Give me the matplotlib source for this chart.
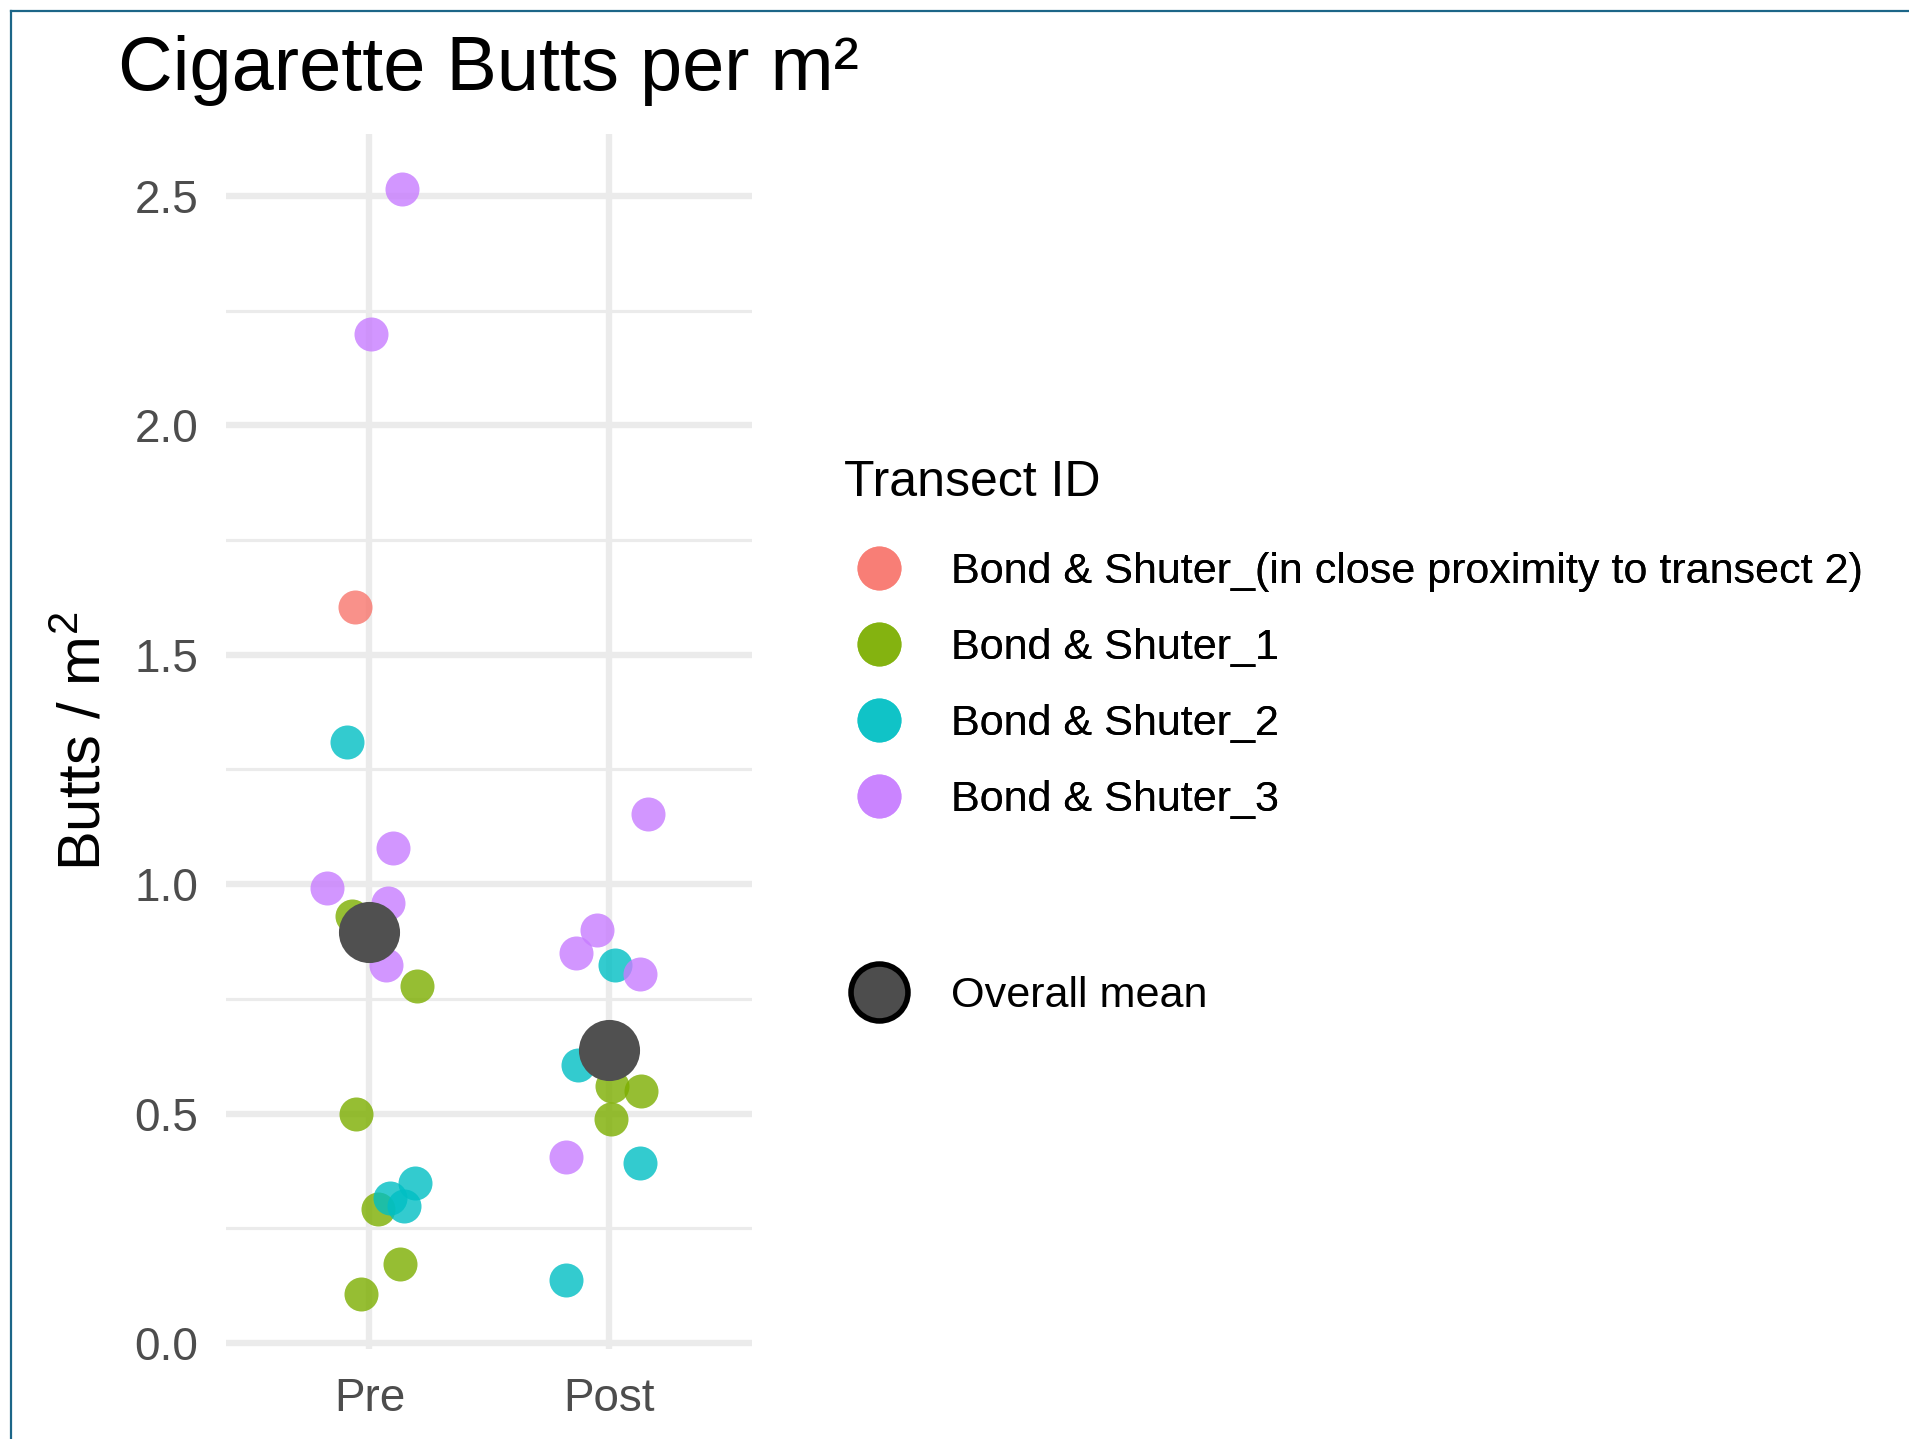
import matplotlib
matplotlib.use('Agg')
import matplotlib.pyplot as plt
import numpy as np
from matplotlib.lines import Line2D
from matplotlib.ticker import MultipleLocator, FormatStrFormatter

plt.rcParams['font.family'] = ['Liberation Sans', 'DejaVu Sans']
plt.rcParams['mathtext.fontset'] = 'custom'
plt.rcParams['mathtext.rm'] = 'Liberation Sans'
plt.rcParams['mathtext.default'] = 'regular'

# ---------------- data ----------------
periods = ['Pre', 'Post']
transect_ids = ['Bond & Shuter_(in close proximity to transect 2)',
                'Bond & Shuter_1', 'Bond & Shuter_2', 'Bond & Shuter_3']
transect_colors = ['#F8766D', '#7CAE00', '#00BFC4', '#C77CFF']

pre_transect = [0, 2, 3, 3, 3, 3, 1, 3, 3, 1, 1, 2, 2, 2, 1, 1, 1]
pre_value = [1.604, 1.309, 2.515, 2.199, 1.078, 0.992, 0.931, 0.959, 0.823,
             0.779, 0.498, 0.349, 0.316, 0.298, 0.292, 0.171, 0.107]
pre_jitter = [-0.061, -0.096, 0.138, 0.005, 0.099, -0.176, -0.073, 0.076, 0.069,
              0.199, -0.057, 0.190, 0.085, 0.143, 0.036, 0.128, -0.036]

post_transect = [3, 3, 3, 2, 3, 2, 1, 1, 1, 3, 2, 2]
post_value = [1.152, 0.899, 0.851, 0.824, 0.804, 0.606, 0.560, 0.549, 0.489,
              0.406, 0.392, 0.136]
post_jitter = [0.167, -0.047, -0.136, 0.025, 0.130, -0.126, 0.015, 0.136, 0.012,
               -0.177, 0.130, -0.179]

period_transect = [pre_transect, post_transect]
period_value = [pre_value, post_value]
period_jitter = [pre_jitter, post_jitter]

# ---------------- figure ----------------
W, H = 1909, 1439
fig = plt.figure(figsize=(W / 100, H / 100), dpi=100)
fig.patch.set_facecolor('white')

ax = fig.add_axes([226 / W, 1 - 1349 / H, (752 - 226) / W, (1349 - 134) / H])
ax.set_facecolor('white')
for s in ax.spines.values():
    s.set_visible(False)

grid_col = '#EBEBEB'
ax.set_axisbelow(True)

# points, by transect group
for t, col in enumerate(transect_colors):
    xs, ys = [], []
    for p in range(len(periods)):
        for tr, v, j in zip(period_transect[p], period_value[p], period_jitter[p]):
            if tr == t:
                xs.append(p + j)
                ys.append(v)
    ax.scatter(xs, ys, s=600, color=col, alpha=0.8, linewidths=0, zorder=3)

# overall means
means = [np.mean(v) for v in period_value]
ax.scatter(range(len(periods)), means, s=1936, color='#505050', linewidths=0, zorder=4)

allv = np.concatenate([pre_value, post_value])
rng = allv.max() - allv.min()
ax.set_ylim(allv.min() - 0.05 * rng, allv.max() + 0.05 * rng)
ax.set_xlim(-0.6, len(periods) - 1 + 0.6)

ax.set_xticks(range(len(periods)))
ax.set_xticklabels(periods)
ax.yaxis.set_major_locator(MultipleLocator(0.5))
ax.yaxis.set_minor_locator(MultipleLocator(0.25))
ax.yaxis.set_major_formatter(FormatStrFormatter('%.1f'))
ax.grid(True, which='major', axis='both', color=grid_col, linewidth=4.6)
ax.grid(True, which='minor', axis='y', color=grid_col, linewidth=2.3)
ax.tick_params(which='both', length=0)
ax.tick_params(axis='y', labelsize=33, labelcolor='#4D4D4D', pad=20)
ax.tick_params(axis='x', labelsize=33, labelcolor='#4D4D4D', pad=20)

ax.set_ylabel('Butts / m$^2$', fontsize=43, color='black', labelpad=16)

fig.text(118 / W, 1 - 90 / H, 'Cigarette Butts per m\u00b2', fontsize=54.5,
         color='black', ha='left', va='baseline')

# legends
fig.text(844 / W, 1 - 496 / H, 'Transect ID', fontsize=36, color='black',
         ha='left', va='baseline')

handles = [Line2D([], [], marker='o', linestyle='', markersize=31.7,
                  markerfacecolor=c, markeredgecolor='none', alpha=0.75)
           for c in transect_colors]
leg1 = fig.legend(handles, transect_ids, loc='center left',
                  bbox_to_anchor=(844 / W, 1 - 686 / H), bbox_transform=fig.transFigure,
                  frameon=False, borderpad=0, borderaxespad=0, fontsize=31.1,
                  handlelength=1.63, handletextpad=0.84, labelspacing=0.83)
fig.add_artist(leg1)

mean_handle = [Line2D([], [], marker='o', linestyle='', markersize=41,
                      markerfacecolor='#4D4D4D', markeredgecolor='black',
                      markeredgewidth=4)]
leg2 = fig.legend(mean_handle, ['Overall mean'], loc='center left',
                  bbox_to_anchor=(844 / W, 1 - 996 / H), bbox_transform=fig.transFigure,
                  frameon=False, borderpad=0, borderaxespad=0, fontsize=31.1,
                  handlelength=1.63, handletextpad=0.84)

# outer border (left and top)
border_col = '#1c6688'
fig.add_artist(Line2D([11 / W, 11 / W], [0, 1 - 11 / H], color=border_col,
                      linewidth=1.6, transform=fig.transFigure))
fig.add_artist(Line2D([11 / W, 1], [1 - 11 / H, 1 - 11 / H], color=border_col,
                      linewidth=1.6, transform=fig.transFigure))

fig.savefig('out.png', dpi=100, facecolor='white')
